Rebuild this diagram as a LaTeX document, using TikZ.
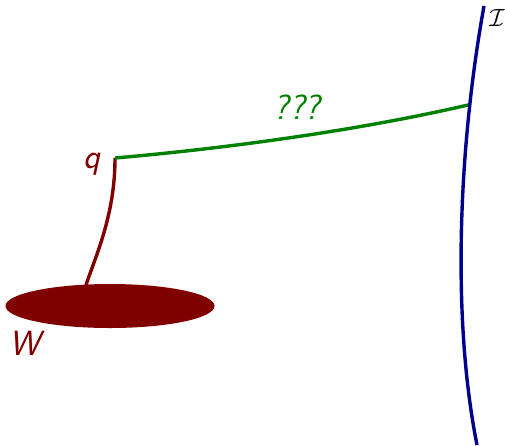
\documentclass[tikz,border=0pt]{standalone}
\usepackage{amsmath}
\usetikzlibrary{shapes.geometric}
\definecolor{wred}{HTML}{800000}
\definecolor{igreen}{HTML}{008000}
\definecolor{iblue}{HTML}{00008F}
\begin{document}
\begin{tikzpicture}[x=1pt,y=-1pt,
  lbl/.style={inner sep=0pt,font=\fontsize{35}{40}\selectfont\sffamily\itshape},
  curve/.style={line width=3.4pt,line cap=round}]
\useasboundingbox (0,0) rectangle (505,445);
% boundary I
\coordinate (itop) at (484,6);
\coordinate (ibot) at (477,445);
\draw[curve,iblue,line cap=butt] (itop) .. controls (458,150) and (452,320) .. (ibot);
\node[inner sep=0pt,font=\fontsize{34}{40}\selectfont] (ilbl) at (497,18) {$\mathcal{I}$};
% W
\node[ellipse,fill=wred,minimum width=209pt,minimum height=44pt,inner sep=0pt] (w) at (110,306) {};
\node[lbl,text=wred] (wlbl) at (25,343) {W};
% q
\coordinate (q) at (115,158);
\coordinate (wtop) at (86,285);
\draw[curve,wred,line cap=butt] (q) .. controls (115,215) and (96,255) .. (wtop);
\node[lbl,text=wred] (qlbl) at (92,164) {q};
% green path
\coordinate (ip) at (468,105);
\draw[curve,igreen,line cap=butt] (q) .. controls (230,148) and (360,130) .. (ip);
\node[lbl,text=igreen] (qq) at (297,107) {???};
\end{tikzpicture}
\end{document}
